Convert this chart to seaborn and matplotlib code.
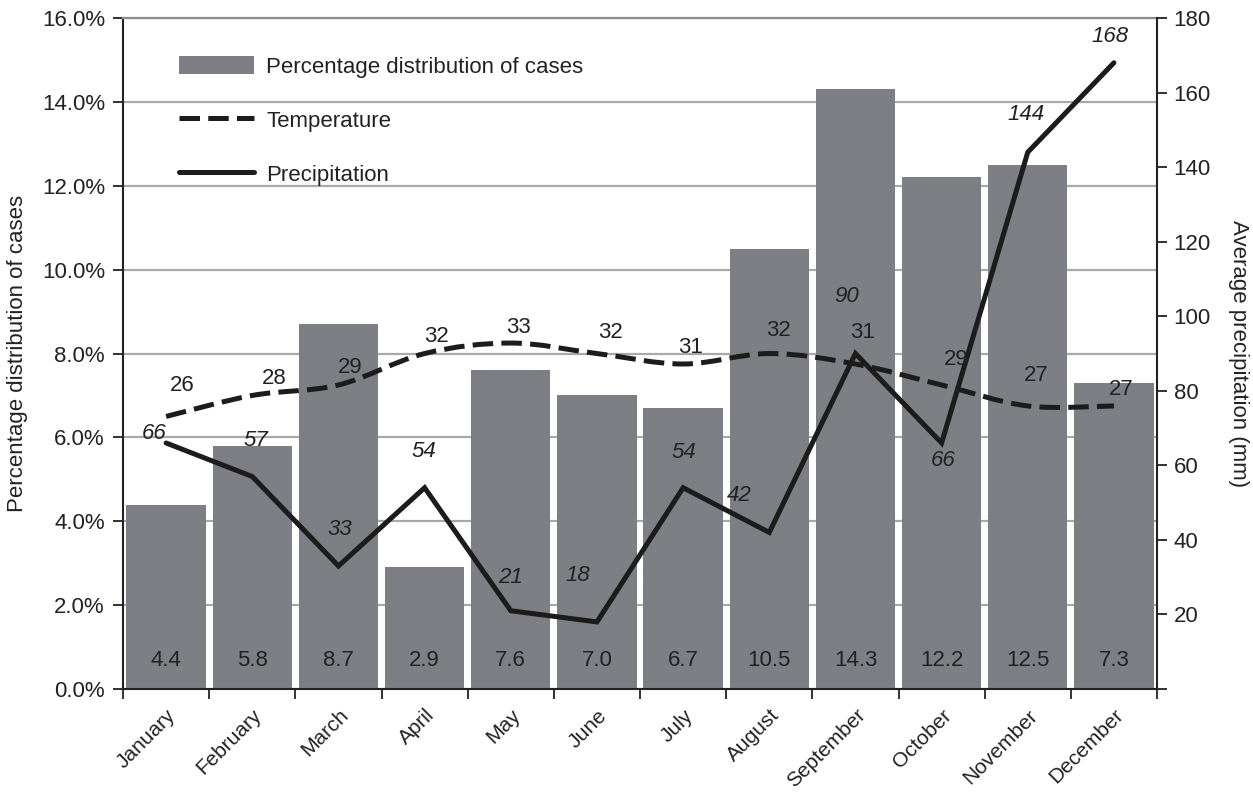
import numpy as np
import pandas as pd
import matplotlib
matplotlib.use("Agg")
import matplotlib.pyplot as plt
from matplotlib.path import Path
from matplotlib.patches import PathPatch, Patch
from matplotlib.lines import Line2D
from matplotlib.ticker import FixedLocator
import seaborn as sns

# ---- data -------------------------------------------------------------
months = ["January", "February", "March", "April", "May", "June", "July",
          "August", "September", "October", "November", "December"]
cases_pct = [4.4, 5.8, 8.7, 2.9, 7.6, 7.0, 6.7, 10.5, 14.3, 12.2, 12.5, 7.3]
temperature = [26, 28, 29, 32, 33, 32, 31, 32, 31, 29, 27, 27]
precipitation = [66, 57, 33, 54, 21, 18, 54, 42, 90, 66, 144, 168]

pct_ticks = [0, 2, 4, 6, 8, 10, 12, 14, 16]
precip_ticks = [0, 20, 40, 60, 80, 100, 120, 140, 160, 180]

# label placement relative to each point, in pixels
temp_label_offsets = [(16, 31), (22, 17), (12, 17), (12, 17), (8, 16), (14, 21),
                      (7, 17), (9, 23), (7, 32), (15, 25), (8, 30), (7, 16)]
precip_label_offsets = [(-12, 9), (4, 36), (1, 37), (-1, 36), (0, 33), (-19, 46),
                        (1, 35), (-30, 37), (-9, 57), (2, -18), (-2, 38), (-4, 26)]

# ---- style ------------------------------------------------------------
BAR = "#7e7f84"
LINE = "#1c1c1c"
GRID = "#a9a9a9"
TEXT = "#222222"
FS = 16
XFS = 15
LW = 3.6
DASH = (0, (4.1, 1.65))

sns.set_theme(style="white")
plt.rcParams["font.family"] = ["Liberation Sans", "DejaVu Sans"]
plt.rcParams["text.color"] = TEXT
plt.rcParams["axes.labelcolor"] = TEXT
plt.rcParams["xtick.color"] = TEXT
plt.rcParams["ytick.color"] = TEXT

fig = plt.figure(figsize=(12.53, 7.94), dpi=100)
ax = fig.add_axes([0.0982, 0.1322, 0.8252, 0.8451])

# bars: percentage of cases per month
df = pd.DataFrame({"month": months, "cases": cases_pct})
sns.barplot(data=df, x="month", y="cases", color=BAR, saturation=1,
            width=0.92, ax=ax, zorder=2, linewidth=0)
ax.set_xlabel("")
ax.set_axisbelow(True)
ax.yaxis.grid(True, color=GRID, lw=1.6)
ax.set_ylim(0, 16)
ax.yaxis.set_major_locator(FixedLocator(pct_ticks))
ax.set_yticklabels([f"{v:.1f}%" for v in pct_ticks])
ax.set_ylabel("Percentage distribution of cases", fontsize=FS, labelpad=10)

for i, v in enumerate(cases_pct):
    ax.annotate(f"{v:.1f}", xy=(i, 0), xytext=(0, 29), textcoords="offset pixels",
                ha="center", va="center", fontsize=FS, color=TEXT, zorder=5)

# precipitation on the right-hand axis
ax2 = ax.twinx()
xs = np.arange(len(months))
sns.lineplot(x=xs, y=precipitation, ax=ax2, color=LINE, lw=LW, sort=False,
             legend=False, solid_joinstyle="miter")
ax2.set_ylim(0, 180)
ax2.yaxis.set_major_locator(FixedLocator(precip_ticks))
ax2.set_yticklabels(["" if v == 0 else str(v) for v in precip_ticks])
ax2.set_ylabel("Average precipitation (mm)", rotation=270, va="bottom",
               fontsize=FS, labelpad=12)
for i, v in enumerate(precipitation):
    dx, dy = precip_label_offsets[i]
    ax2.annotate(str(v), xy=(i, v), xytext=(dx, dy), textcoords="offset pixels",
                 ha="center", va="center", fontsize=FS, style="italic", color=TEXT)

# temperature: smoothed dashed curve on its own hidden scale
ax3 = ax.twinx()
ax3.set_ylim(0, 64)
ax3.axis("off")
pts = np.column_stack([xs.astype(float), np.array(temperature, dtype=float)])
ext = np.vstack([pts[0], pts, pts[-1]])
verts = [pts[0]]
codes = [Path.MOVETO]
for k in range(len(pts) - 1):
    p0, p1, p2, p3 = ext[k], ext[k + 1], ext[k + 2], ext[k + 3]
    verts += [p1 + (p2 - p0) / 6.0, p2 - (p3 - p1) / 6.0, p2]
    codes += [Path.CURVE4] * 3
ax3.add_patch(PathPatch(Path(verts, codes), facecolor="none", edgecolor=LINE,
                        lw=LW, linestyle=DASH, capstyle="butt"))
for i, v in enumerate(temperature):
    dx, dy = temp_label_offsets[i]
    ax3.annotate(str(v), xy=(i, v), xytext=(dx, dy), textcoords="offset pixels",
                 ha="center", va="center", fontsize=FS, color=TEXT)

# x axis: month labels, ticks at category boundaries
ax.set_xlim(-0.5, len(months) - 0.5)
ax.set_xticks(xs)
ax.set_xticklabels(months, rotation=45, ha="right", rotation_mode="anchor")
ax.set_xticks(np.arange(-0.5, len(months), 1.0), minor=True)
ax.tick_params(axis="x", which="major", length=0, pad=12, labelsize=XFS)
ax.tick_params(axis="x", which="minor", bottom=True, direction="out",
               length=7, width=1.3, color="#222222")
ax.tick_params(axis="y", left=True, direction="out", length=7, width=1.3,
               pad=6, labelsize=FS)
ax2.tick_params(axis="y", right=True, direction="out", length=7, width=1.3,
                pad=5, labelsize=FS)

for s in ("left", "bottom"):
    ax.spines[s].set_color("#222222")
    ax.spines[s].set_linewidth(1.5)
ax.spines["right"].set_visible(False)
ax.spines["top"].set_color("#8c8c8c")
ax.spines["top"].set_linewidth(1.6)
for s in ("top", "left", "bottom"):
    ax2.spines[s].set_visible(False)
ax2.spines["right"].set_color("#222222")
ax2.spines["right"].set_linewidth(1.5)

handles = [
    Patch(facecolor=BAR, edgecolor="none", label="Percentage distribution of cases"),
    Line2D([], [], color=LINE, lw=LW, linestyle=DASH, dash_capstyle="butt",
           label="Temperature"),
    Line2D([], [], color=LINE, lw=LW, label="Precipitation"),
]
ax.legend(handles=handles, loc="upper left", bbox_to_anchor=(0.054, 0.943),
          frameon=False, fontsize=FS, borderpad=0, borderaxespad=0,
          handlelength=3.4, handleheight=0.86, handletextpad=0.54,
          labelspacing=1.45)

fig.savefig("out.png", dpi=100)
